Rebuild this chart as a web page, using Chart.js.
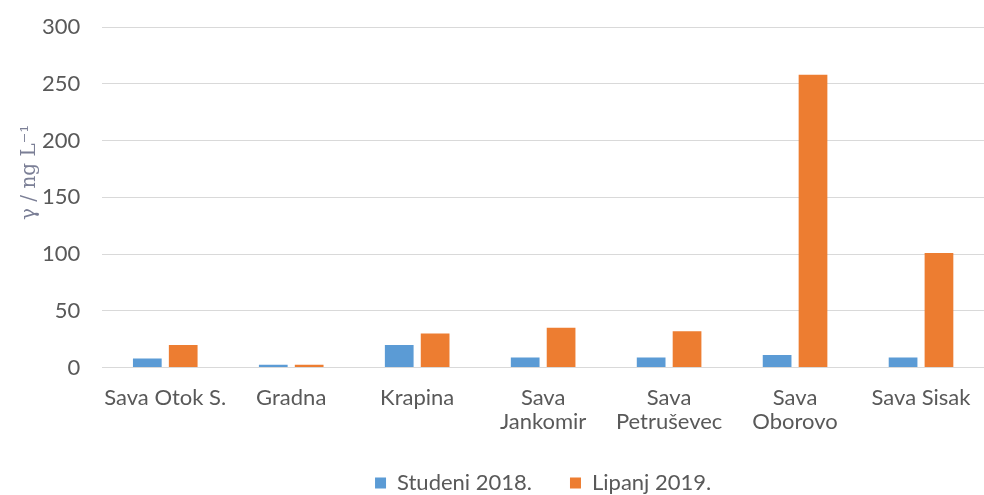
<!DOCTYPE html>
<html>
<head>
<meta charset="utf-8">
<script src="https://cdn.jsdelivr.net/npm/chart.js@4/dist/chart.umd.min.js"></script>
<style>
  html, body { margin: 0; padding: 0; background: #fff; }
  #wrap { width: 984px; height: 495px; }
</style>
</head>
<body>
<div id="wrap"><canvas id="c"></canvas></div>
<script>
const sites = [
  "Sava Otok S.",
  "Gradna",
  "Krapina",
  ["Sava", "Jankomir"],
  ["Sava", "Petruševec"],
  ["Sava", "Oborovo"],
  "Sava Sisak"
]
const studeni2018 = [8, 2.5, 20, 9, 9, 11, 9]
const lipanj2019 = [20, 2.5, 30, 35, 32, 258, 101]
const yTicks = [0, 50, 100, 150, 200, 250, 300]

const grey = "#595959"

new Chart(document.getElementById("c"), {
  type: "bar",
  data: {
    labels: sites,
    datasets: [
      {
        label: "Studeni 2018.",
        data: studeni2018,
        backgroundColor: "#5b9bd5",
        categoryPercentage: 0.57,
        barPercentage: 0.8
      },
      {
        label: "Lipanj 2019.",
        data: lipanj2019,
        backgroundColor: "#ed7d31",
        categoryPercentage: 0.57,
        barPercentage: 0.8
      }
    ]
  },
  options: {
    responsive: true,
    maintainAspectRatio: false,
    animation: false,
    layout: { padding: { top: 27, right: 0, left: 0, bottom: -9 } },
    plugins: {
      tooltip: { enabled: false },
      legend: {
        position: "bottom",
        fullSize: false,
        labels: {
          boxWidth: 11,
          boxHeight: 11,
          padding: 38,
          color: grey,
          font: { family: "Lato", size: 22, lineHeight: 1 }
        }
      }
    },
    scales: {
      x: {
        grid: { display: false },
        border: { display: false },
        // trim the empty space under the second line of labels
        afterFit: scale => { scale.height -= 10 },
        ticks: {
          color: grey,
          maxRotation: 0,
          autoSkip: false,
          padding: 10,
          font: { family: "Lato", size: 22, lineHeight: 1.1 }
        }
      },
      y: {
        min: 0,
        max: 300,
        afterBuildTicks: axis => { axis.ticks = yTicks.map(v => ({ value: v })) },
        grid: { color: "#d9d9d9", lineWidth: 1, tickLength: 22, tickColor: "rgba(0,0,0,0)" },
        border: { display: false },
        ticks: {
          color: grey,
          padding: 0,
          font: { family: "Lato", size: 22 }
        },
        title: {
          display: true,
          text: "\u2003\u2003\u2002γ / ng L⁻¹",
          color: "#7b7f96",
          padding: { top: 18, bottom: 0 },
          font: { family: "DejaVu Serif", size: 20 }
        }
      }
    }
  }
})
</script>
</body>
</html>
